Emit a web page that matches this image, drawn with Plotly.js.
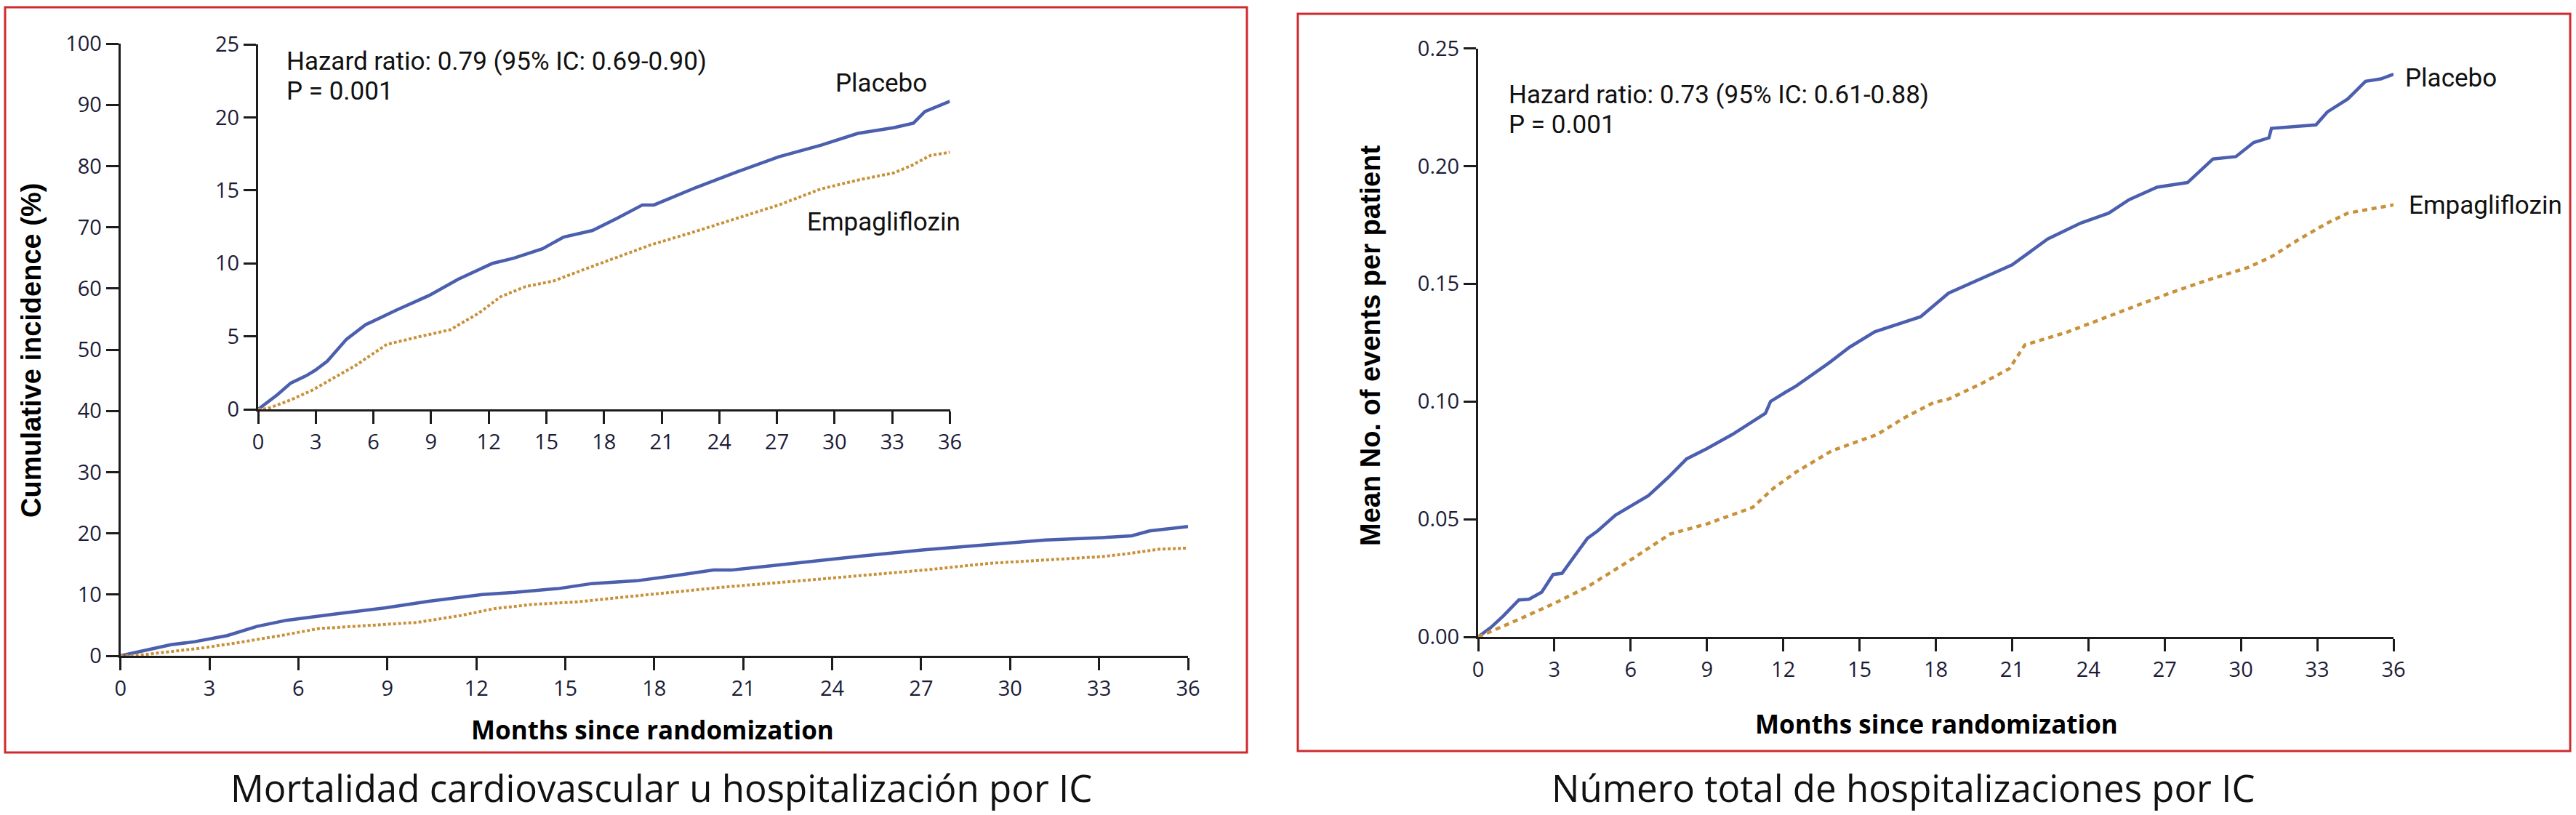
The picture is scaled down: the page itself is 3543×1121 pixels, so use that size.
<!DOCTYPE html>
<html>
<head>
<meta charset="utf-8">
<script src="https://cdn.plot.ly/plotly-3.0.1.min.js"></script>
<style>
  html, body { margin: 0; padding: 0; background: #ffffff; }
  #chart { width: 3543px; height: 1121px; }
</style>
</head>
<body>
<div id="chart"></div>
<script>
// ---------- Data ----------
// Panel A: cardiovascular death or HF hospitalization, cumulative incidence (%)
const cvMonthsPlacebo = [0, 0.5, 1.0, 1.7, 2.5, 3.0, 3.6, 4.6, 5.6, 7.2, 8.9, 10.4, 12.2, 13.3, 14.8, 15.9, 17.4, 18.7, 20.0, 20.6, 22.8, 25.0, 27.1, 29.3, 31.2, 33.1, 34.1, 34.7, 36];
const cvPlacebo       = [0, 0.5, 1.0, 1.8, 2.3, 2.7, 3.3, 4.8, 5.8, 6.8, 7.8, 8.9, 10.0, 10.35, 11.0, 11.8, 12.25, 13.1, 14.0, 14.0, 15.2, 16.3, 17.3, 18.1, 18.9, 19.3, 19.6, 20.4, 21.1];
const cvMonthsEmpa    = [0, 0.5, 1.0, 1.7, 2.8, 3.9, 5.2, 5.4, 6.7, 8.3, 10.0, 11.5, 12.6, 13.9, 15.4, 17.0, 18.7, 20.4, 22.8, 25.0, 27.1, 29.3, 31.2, 33.1, 34.0, 35.0, 36];
const cvEmpa          = [0, 0.05, 0.3, 0.65, 1.3, 2.1, 3.1, 3.3, 4.45, 4.95, 5.45, 6.6, 7.7, 8.4, 8.8, 9.6, 10.4, 11.25, 12.2, 13.1, 14.0, 15.1, 15.7, 16.2, 16.7, 17.4, 17.6];

// Panel B: total HF hospitalizations, mean number of events per patient
const hfMonthsPlacebo = [0, 0.5, 1.0, 1.6, 2.0, 2.5, 2.95, 3.3, 4.3, 4.7, 5.4, 5.9, 6.7, 7.5, 8.2, 9.0, 10.0, 11.3, 11.5, 12.1, 12.5, 13.8, 14.6, 15.6, 16.9, 17.4, 18.5, 20.1, 21.0, 22.4, 23.7, 24.8, 25.6, 26.7, 27.9, 28.9, 29.8, 30.5, 31.1, 31.2, 32.95, 33.4, 34.2, 34.9, 35.5, 36];
const hfPlacebo       = [0, 0.004, 0.009, 0.0157, 0.016, 0.019, 0.0265, 0.027, 0.0419, 0.045, 0.0517, 0.055, 0.060, 0.068, 0.0756, 0.080, 0.086, 0.095, 0.100, 0.104, 0.1065, 0.1164, 0.123, 0.1296, 0.134, 0.136, 0.146, 0.1538, 0.158, 0.169, 0.1758, 0.180, 0.1857, 0.191, 0.193, 0.203, 0.204, 0.210, 0.212, 0.216, 0.2175, 0.223, 0.2285, 0.236, 0.237, 0.239];
const hfMonthsEmpa    = [0, 1.3, 2.95, 4.26, 5.9, 7.55, 9.0, 10.8, 11.6, 12.5, 13.9, 15.7, 16.7, 17.9, 18.5, 19.8, 20.9, 21.5, 23.2, 24.3, 25.6, 27.2, 28.7, 30.3, 31.2, 32.3, 33.4, 34.2, 35.2, 36];
const hfEmpa          = [0, 0.006, 0.014, 0.021, 0.032, 0.0437, 0.048, 0.055, 0.063, 0.070, 0.079, 0.086, 0.0927, 0.0995, 0.101, 0.1076, 0.114, 0.124, 0.1296, 0.134, 0.1395, 0.146, 0.1516, 0.157, 0.1615, 0.169, 0.1758, 0.180, 0.182, 0.1835];

// Text
const seriesNames = ["Placebo", "Empagliflozin"];
const hrTextA = ["Hazard ratio: 0.79 (95% IC: 0.69-0.90)", "P = 0.001"];
const hrTextB = ["Hazard ratio: 0.73 (95% IC: 0.61-0.88)", "P = 0.001"];
const yTitleA = "Cumulative incidence (%)";
const yTitleB = "Mean No. of events per patient";
const xTitle = "Months since randomization";
const captionA = "Mortalidad cardiovascular u hospitalización por IC";
const captionB = "Número total de hospitalizaciones por IC";

// ---------- Styles ----------
const W = 3543, H = 1121;
const px = v => v / W;
const py = v => 1 - v / H;
const BLUE = "#4b5fae";
const GOLD = "#c8913a";
const AXIS = "#1c1c1c";
const TICKFONT = { family: "Open Sans, Arial, sans-serif", size: 29, color: "#1c1c38" };
const NARROW = "Roboto, Liberation Sans, Arial, sans-serif";

function axis(domain, anchor, range, dtick, extra) {
  return Object.assign({
    domain: domain, anchor: anchor, range: range, dtick: dtick, tick0: 0,
    showgrid: false, zeroline: false, showline: true, linecolor: AXIS, linewidth: 3,
    ticks: "outside", ticklen: 17, tickwidth: 3, tickcolor: AXIS,
    tickfont: TICKFONT, fixedrange: true
  }, extra || {});
}

const traces = [
  // main left
  { x: cvMonthsPlacebo, y: cvPlacebo, xaxis: "x", yaxis: "y", mode: "lines", name: seriesNames[0],
    line: { color: BLUE, width: 4.5 } },
  { x: cvMonthsEmpa, y: cvEmpa, xaxis: "x", yaxis: "y", mode: "lines", name: seriesNames[1],
    line: { color: GOLD, width: 4, dash: "4px,3px" } },
  // inset
  { x: cvMonthsPlacebo, y: cvPlacebo, xaxis: "x2", yaxis: "y2", mode: "lines", name: seriesNames[0],
    line: { color: BLUE, width: 4.5 } },
  { x: cvMonthsEmpa, y: cvEmpa, xaxis: "x2", yaxis: "y2", mode: "lines", name: seriesNames[1],
    line: { color: GOLD, width: 4, dash: "4px,3px" } },
  // right panel
  { x: hfMonthsPlacebo, y: hfPlacebo, xaxis: "x3", yaxis: "y3", mode: "lines", name: seriesNames[0],
    line: { color: BLUE, width: 4.5 } },
  { x: hfMonthsEmpa, y: hfEmpa, xaxis: "x3", yaxis: "y3", mode: "lines", name: seriesNames[1],
    line: { color: GOLD, width: 4.5, dash: "7px,6px" } }
];

const ann = [];
function txt(x, y, text, font, xanchor, extra) {
  ann.push(Object.assign({ xref: "paper", yref: "paper", x: px(x), y: py(y), text: text,
    showarrow: false, xanchor: xanchor || "center", yanchor: "middle", font: font }, extra || {}));
}
const narrowFont = { family: NARROW, size: 35, color: "#111111" };
txt(392, 84, hrTextA[0], narrowFont, "left");
txt(392, 125, hrTextA[1], narrowFont, "left");
txt(1212, 115, seriesNames[0], narrowFont, "center");
txt(1215, 305, seriesNames[1], narrowFont, "center");
txt(2073, 130, hrTextB[0], narrowFont, "left");
txt(2073, 172, hrTextB[1], narrowFont, "left");
txt(3306, 107, seriesNames[0], narrowFont, "left");
txt(3311, 282, seriesNames[1], narrowFont, "left");

const yTitleFont = { family: "Liberation Sans, Arial, sans-serif", size: 38, color: "#000000", weight: "bold" };
txt(43, 482, "<b>" + yTitleA + "</b>", yTitleFont, "center", { textangle: -90 });
txt(1885, 476, "<b>" + yTitleB + "</b>", yTitleFont, "center", { textangle: -90 });

const xTitleFont = { family: "Open Sans, Arial, sans-serif", size: 35, color: "#000000" };
txt(897, 1003, "<b>" + xTitle + "</b>", xTitleFont, "center");
txt(2663, 995, "<b>" + xTitle + "</b>", xTitleFont, "center");

const capFont = { family: "Open Sans, Arial, sans-serif", size: 51, color: "#111111" };
txt(910, 1083, captionA, capFont, "center");
txt(2618, 1083, captionB, capFont, "center");

const RED = "#cf2a2e";
const shapes = [
  { type: "rect", xref: "paper", yref: "paper", x0: px(7), x1: px(1715), y0: py(1035), y1: py(10),
    line: { color: RED, width: 3 }, fillcolor: "rgba(0,0,0,0)" },
  { type: "rect", xref: "paper", yref: "paper", x0: px(1785), x1: px(3535), y0: py(1033), y1: py(19),
    line: { color: RED, width: 3 }, fillcolor: "rgba(0,0,0,0)" }
];

const layout = {
  width: W, height: H, autosize: false,
  margin: { l: 0, r: 0, t: 0, b: 0, pad: 0 },
  paper_bgcolor: "#ffffff", plot_bgcolor: "rgba(0,0,0,0)",
  showlegend: false,
  xaxis:  axis([px(165.7), px(1634)], "y", [0, 36], 3),
  yaxis:  axis([py(902), py(60)], "x", [0, 100], 10),
  xaxis2: axis([px(355), px(1306.5)], "y2", [0, 36], 3),
  yaxis2: axis([py(563), py(61)], "x2", [0, 25], 5),
  xaxis3: axis([px(2033), px(3292)], "y3", [0, 36], 3),
  yaxis3: axis([py(876), py(66.5)], "x3", [0, 0.25], 0.05, { tickformat: ".2f" }),
  annotations: ann,
  shapes: shapes
};

Plotly.newPlot("chart", traces, layout, { staticPlot: true, displayModeBar: false });
</script>
</body>
</html>
